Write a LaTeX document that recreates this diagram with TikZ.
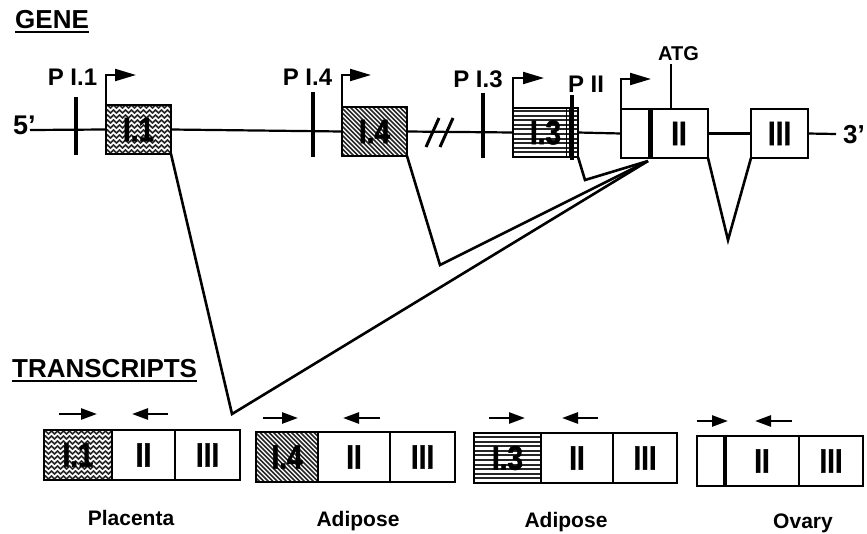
\documentclass[tikz,border=0pt]{standalone}
\usepackage{fontspec}
\usepackage{graphicx}
\setmainfont{Liberation Sans}
\newfontfamily\exfont[FakeBold=1.6,UprightFont={* Bold}]{Liberation Sans}
\usetikzlibrary{arrows.meta,decorations.pathmorphing,calc}
\newcommand\xl[1]{\scalebox{0.82}[1]{#1}}
\begin{document}
\begin{tikzpicture}[x=1pt,y=-1pt,
  box/.style={draw, line width=2.2pt, inner sep=0pt, outer sep=0pt, anchor=north west,
     minimum width=#1, font=\exfont\fontsize{34}{34}\selectfont},
  gbox/.style={box=#1, minimum height=49pt},
  tbox/.style={box=#1, minimum height=50pt},
  wavy/.style={path picture={
     \fill[black!85] (path picture bounding box.south west) rectangle (path picture bounding box.north east);
     \foreach \k in {-1,...,12}{\draw[white,line width=1.5pt,decorate,decoration={zigzag,segment length=6pt,amplitude=1.6pt}]
       ([xshift=-6pt,yshift=\k*5pt]path picture bounding box.south west) -- ([xshift=6pt,yshift=\k*5pt]path picture bounding box.south east);}}},
  diag/.style={path picture={
     \foreach \k in {-64,-59.5,...,80}{\draw[line width=1.7pt, black!85]
       ([xshift=\k pt]path picture bounding box.north west) -- ++(70pt,-70pt);}}},
  hlines/.style={path picture={
     \foreach \k in {1,...,11}{\draw[line width=2pt, black!85]
       ([yshift=\k*4.6pt]path picture bounding box.south west) -- ([yshift=\k*4.6pt]path picture bounding box.south east);}}},
  tick/.style={fill=black, inner sep=0pt, outer sep=0pt, minimum width=4.5pt, minimum height=#1},
  mainline/.style={line width=2.2pt},
  splice/.style={line width=2.6pt, line join=miter},
  prom/.style={line width=2.2pt, -{Triangle[length=21pt,width=12pt]}},
  tarrow/.style={line width=2.6pt, -{Triangle[length=16pt,width=11pt]}},
  lab/.style={font=\bfseries\fontsize{24}{24}\selectfont, inner sep=0pt, anchor=base},
  head/.style={font=\bfseries\fontsize{26}{26}\selectfont, inner sep=0pt, anchor=base west},
  tissue/.style={font=\bfseries\fontsize{21}{21}\selectfont, inner sep=0pt, anchor=base}
]
\useasboundingbox (0,0) rectangle (867,533);

% headings
\node[head] (gene) at (15,28) {GENE};
\draw[line width=1.8pt] ([yshift=-4pt]gene.base west) -- ([yshift=-4pt]gene.base east);
\node[head] (trans) at (12,377) {TRANSCRIPTS};
\draw[line width=1.8pt] ([yshift=-4pt]trans.base west) -- ([yshift=-4pt]trans.base east);

% gene exons
\node[gbox=65pt, wavy] (e11) at (106,105) {\xl{I.1}};
\node[gbox=65pt, diag] (e14) at (342,107) {\xl{I.4}};
\node[gbox=65pt, hlines] (e13) at (513,108) {\xl{I.3}};
\node[gbox=29pt] (sm) at (621,109) {};
\node[gbox=58pt] (eII) at (650,109) {\xl{II}};
\node[gbox=57pt] (eIII) at (751,109) {\xl{III}};
\draw[line width=5pt] (sm.north east) -- (sm.south east);

% main line
\node[font=\bfseries\fontsize{27}{27}\selectfont, inner sep=0pt, anchor=base west] (five) at (13,134) {5'};
\node[font=\bfseries\fontsize{26}{26}\selectfont, inner sep=0pt, anchor=base west] (three) at (843,143) {3'};
\coordinate (c5) at (30,130);
\coordinate (c3) at (836,134);
\draw[mainline] (c5) -- (e11.west);
\draw[mainline] (e11.east) -- (e14.west);
\draw[mainline] (e14.east) -- (e13.west);
\draw[mainline] (e13.east) -- (sm.west);
\draw[mainline] (eII.east) -- (eIII.west);
\draw[mainline] (eIII.east) -- (c3);

% break marks
\coordinate (b1a) at (426,147); \coordinate (b1b) at (439,118);
\coordinate (b2a) at (440,147); \coordinate (b2b) at (453,118);
\draw[line width=3pt] (b1a) -- (b1b);
\draw[line width=3pt] (b2a) -- (b2b);

% promoter ticks
\node[tick=58pt] (t11) at (76,126) {};
\node[tick=65pt] (t14) at (313,124.5) {};
\node[tick=65pt] (t13) at (483,125.5) {};
\node[tick=65pt] (tII) at (572,127) {};
\foreach \xx in {566,569} \draw[line width=1pt] (\xx,109) -- (\xx,156);

% promoter labels
\node[lab] (l11) at (72.5,85) {P I.1};
\node[lab] (l14) at (307.5,85) {P I.4};
\node[lab] (l13) at (478,87) {P I.3};
\node[lab] (lII) at (586,92) {P II};
\node[lab, font=\bfseries\fontsize{20}{20}\selectfont] (latg) at (678.5,60) {ATG};
\coordinate (atg) at (671,64);
\draw[line width=2.2pt] (atg) -- (atg |- eII.north);

% promoter arrows
\coordinate (p11) at (136,75);
\coordinate (p14) at (371,75);
\coordinate (p13) at (544,78);
\coordinate (pII) at (651,79);
\draw[prom] (e11.north west) |- (p11);
\draw[prom] (e14.north west) |- (p14);
\draw[prom] (e13.north west) |- (p13);
\draw[prom] (sm.north west) |- (pII);

% splicing
\coordinate (v1) at (232,414);
\coordinate (v2) at (440,265);
\coordinate (v3) at (585,180);
\coordinate (v4) at (728,240);
\coordinate (jn) at (648,161);
\draw[splice] (e11.south east) -- (v1) -- (jn);
\draw[splice] (e14.south east) -- (v2) -- (jn);
\draw[splice] (e13.south east) -- (v3) -- (jn);
\draw[splice] (eII.south east) -- (v4) -- (eIII.south west);

% transcripts
\node[tbox=68pt, wavy] (t1a) at (44,430) {\xl{I.1}};
\node[tbox=63pt] (t1b) at (112,430) {\xl{II}};
\node[tbox=65pt] (t1c) at (175,430) {\xl{III}};

\node[tbox=62pt, diag] (t2a) at (256,432) {\xl{I.4}};
\node[tbox=72pt] (t2b) at (318,432) {\xl{II}};
\node[tbox=65pt] (t2c) at (390,432) {\xl{III}};

\node[tbox=67pt, hlines] (t3a) at (474,433) {\xl{I.3}};
\node[tbox=72pt] (t3b) at (541,433) {\xl{II}};
\node[tbox=64pt] (t3c) at (613,433) {\xl{III}};

\node[tbox=28pt] (t4a) at (697,436) {};
\node[tbox=74pt] (t4b) at (725,436) {\xl{II}};
\node[tbox=64pt] (t4c) at (799,436) {\xl{III}};
\draw[line width=4pt] (t4b.north west) -- (t4b.south west);

% primer arrows
\draw[tarrow] ([shift={(15,-16)}]t1a.north west) -- ++(38,0);
\draw[tarrow] ([shift={(56,-16)}]t1b.north west) -- ++(-36,0);
\draw[tarrow] ([shift={(7,-14)}]t2a.north west) -- ++(35,0);
\draw[tarrow] ([shift={(62,-14)}]t2b.north west) -- ++(-37,0);
\draw[tarrow] ([shift={(15,-15)}]t3a.north west) -- ++(36,0);
\draw[tarrow] ([shift={(57,-15)}]t3b.north west) -- ++(-36,0);
\draw[tarrow] ([shift={(0,-15)}]t4a.north west) -- ++(31,0);
\draw[tarrow] ([shift={(67,-15)}]t4b.north west) -- ++(-37,0);

% tissues
\node[tissue] (tis1) at (131,525) {Placenta};
\node[tissue] (tis2) at (358,526) {Adipose};
\node[tissue] (tis3) at (566,527) {Adipose};
\node[tissue] (tis4) at (803,528) {Ovary};
\end{tikzpicture}
\end{document}
